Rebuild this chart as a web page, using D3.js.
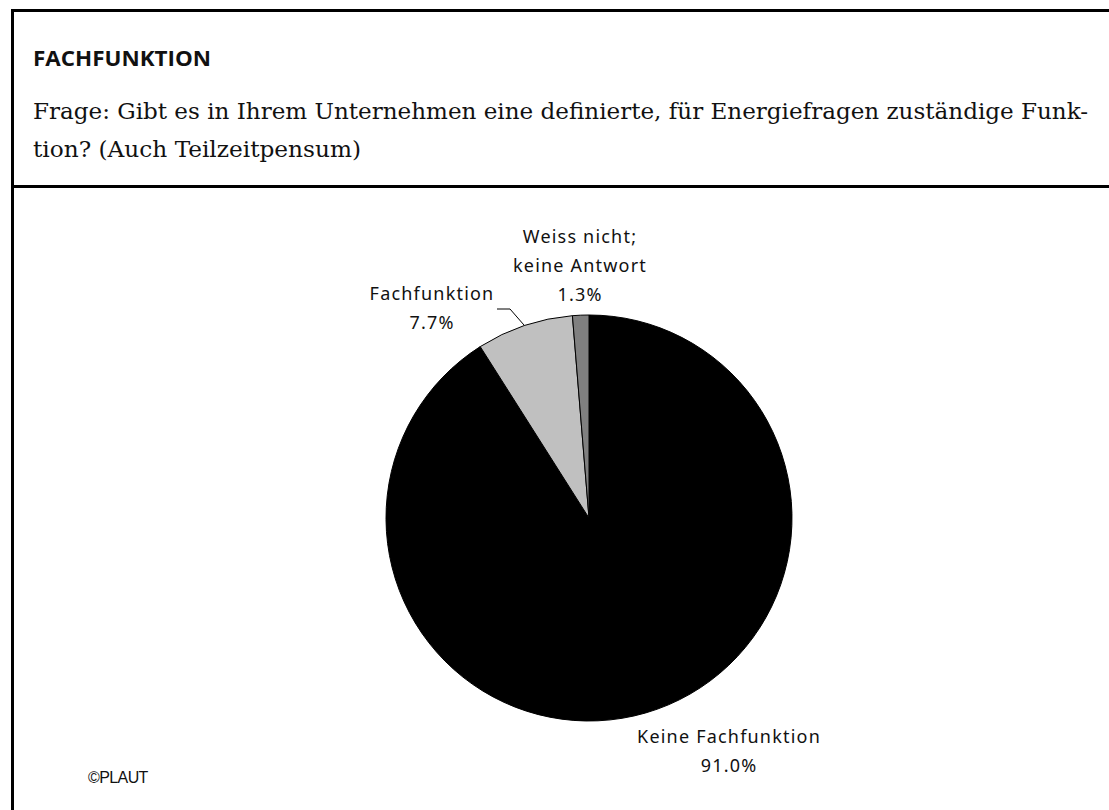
<!DOCTYPE html>
<html>
<head>
<meta charset="utf-8">
<script src="https://cdn.jsdelivr.net/npm/d3@7"></script>
<style>
  html, body { margin: 0; padding: 0; background: #fff; }
  svg { display: block; }
</style>
</head>
<body>
<svg id="chart" width="1109" height="810"></svg>
<script>
const categories = ["Keine Fachfunktion", "Fachfunktion", "Weiss nicht;\nkeine Antwort"];
const values = [91.0, 7.7, 1.3];
const valueLabels = ["91.0%", "7.7%", "1.3%"];
const titleText = "FACHFUNKTION";
const questionLines = [
  "Frage: Gibt es in Ihrem Unternehmen eine definierte, für Energiefragen zuständige Funk-",
  "tion? (Auch Teilzeitpensum)"
];
const creditText = "©PLAUT";

const svg = d3.select("#chart");

// frame
svg.append("line").attr("x1", 12.5).attr("x2", 12.5).attr("y1", 9).attr("y2", 810)
  .attr("stroke", "#000").attr("stroke-width", 3);
svg.append("line").attr("x1", 11).attr("x2", 1109).attr("y1", 10.5).attr("y2", 10.5)
  .attr("stroke", "#000").attr("stroke-width", 3);
svg.append("line").attr("x1", 11).attr("x2", 1109).attr("y1", 186.5).attr("y2", 186.5)
  .attr("stroke", "#000").attr("stroke-width", 3);

// header
svg.append("text").attr("x", 33).attr("y", 66)
  .attr("font-family", "'Open Sans', 'Noto Sans', sans-serif").attr("font-weight", "bold")
  .attr("font-size", 22).attr("textLength", 178).attr("lengthAdjust", "spacingAndGlyphs")
  .attr("fill", "#111").text(titleText);

const qWidths = [1055, 328];
questionLines.forEach((t, i) => {
  svg.append("text").attr("x", 33).attr("y", 119 + i * 38)
    .attr("font-family", "'DejaVu Serif Condensed', 'DejaVu Serif', serif")
    .attr("font-size", 22.5).attr("textLength", qWidths[i]).attr("lengthAdjust", "spacingAndGlyphs")
    .attr("fill", "#111").text(t);
});

// pie
const cx = 589, cy = 518, r = 203;
const color = d3.scaleOrdinal().domain(categories).range(["#000000", "#c0c0c0", "#808080"]);
const pie = d3.pie().sort(null).value(d => d.v);
const data = categories.map((c, i) => ({ c, v: values[i], l: valueLabels[i] }));
const arcs = pie(data);
const arc = d3.arc().innerRadius(0).outerRadius(r);

const g = svg.append("g").attr("transform", `translate(${cx},${cy})`);
g.selectAll("path").data(arcs).join("path")
  .attr("d", arc)
  .attr("fill", d => color(d.data.c))
  .attr("stroke", "#000").attr("stroke-width", 1);

// labels
const labelFont = "'Noto Sans', 'DejaVu Sans', sans-serif";
const labelPos = [
  { x: 729, y: 743 },
  { x: 432, y: 300 },
  { x: 580, y: 243 }
];
arcs.forEach((a, i) => {
  const lines = a.data.c.split("\n").concat([a.data.l]);
  const t = svg.append("text")
    .attr("text-anchor", "middle")
    .attr("font-family", labelFont).attr("font-size", 18)
    .attr("letter-spacing", 1.2)
    .attr("fill", "#111");
  lines.forEach((ln, j) => {
    t.append("tspan").attr("x", labelPos[i].x).attr("y", labelPos[i].y + j * 29).text(ln);
  });
});

// leader line for Fachfunktion
const fa = arcs[1];
const mid = (fa.startAngle + fa.endAngle) / 2;
const ex = cx + r * Math.sin(mid), ey = cy - r * Math.cos(mid);
svg.append("polyline")
  .attr("points", `497,309 510,309 ${ex},${ey}`)
  .attr("fill", "none").attr("stroke", "#000").attr("stroke-width", 1);

// credit
svg.append("text").attr("x", 88).attr("y", 783)
  .attr("font-family", "'Liberation Sans', Arial, sans-serif").attr("font-size", 16)
  .attr("letter-spacing", -0.6).attr("fill", "#111").text(creditText);
</script>
</body>
</html>
